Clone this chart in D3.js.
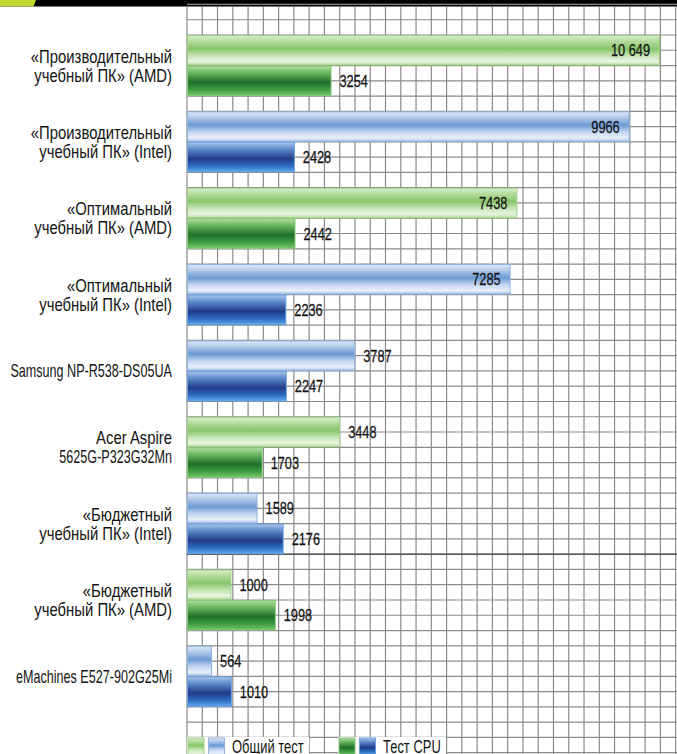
<!DOCTYPE html>
<html><head><meta charset="utf-8">
<script src="https://cdn.jsdelivr.net/npm/d3@7"></script>
<style>
html,body{margin:0;padding:0;background:#fff;}
svg{display:block;}
text{font-family:"Liberation Sans","Arial",sans-serif;fill:#141414;}
</style></head>
<body>
<script>
// ---- data ----
const categories = [
  ["«Производительный", "учебный ПК» (AMD)"],
  ["«Производительный", "учебный ПК» (Intel)"],
  ["«Оптимальный", "учебный ПК» (AMD)"],
  ["«Оптимальный", "учебный ПК» (Intel)"],
  ["Samsung NP-R538-DS05UA"],
  ["Acer Aspire", "5625G-P323G32Mn"],
  ["«Бюджетный", "учебный ПК» (Intel)"],
  ["«Бюджетный", "учебный ПК» (AMD)"],
  ["eMachines E527-902G25Mi"]
];
const platform = ["amd", "intel", "amd", "intel", "intel", "amd", "intel", "amd", "intel"];
const overallValues = [10649, 9966, 7438, 7285, 3787, 3448, 1589, 1000, 564];
const cpuValues = [3254, 2428, 2442, 2236, 2247, 1703, 2176, 1998, 1010];
const seriesNames = ["Общий тест", "Тест CPU"];

// ---- layout ----
const W = 677, H = 754;
const cell = 15.27;
const plotLeft = 187, plotTop = 35;
const svg = d3.select("body").append("svg").attr("width", W).attr("height", H);

const x = d3.scaleLinear().domain([0, 11000]).range([plotLeft, plotLeft + 11000 * 473 / 10649]);
const idx = d3.range(categories.length);
const y = d3.scaleBand().domain(idx)
  .range([plotTop, plotTop + 5 * cell * (categories.length - 0.2)])
  .paddingInner(0.2).paddingOuter(0);
const ySub = d3.scaleBand().domain(["overall", "cpu"]).range([0, y.bandwidth()]);

// ---- gradients ----
const defs = svg.append("defs");
const grads = {
  "amd-overall": [[0,"#d9eecb"],[0.18,"#b7dd9f"],[0.45,"#88c56c"],[0.68,"#c6e4b3"],[0.88,"#eaf5e2"],[1,"#b4da9a"]],
  "amd-cpu": [[0,"#b3dda2"],[0.22,"#6bb760"],[0.55,"#1f6f2b"],[0.8,"#3e9e42"],[1,"#78c66a"]],
  "intel-overall": [[0,"#dde8f7"],[0.18,"#b5cbeb"],[0.45,"#6b9ad3"],[0.68,"#c3d5f0"],[0.88,"#e8eff9"],[1,"#a9c3e8"]],
  "intel-cpu": [[0,"#acc6ea"],[0.22,"#5f8ccb"],[0.55,"#213c88"],[0.8,"#2e6bc0"],[1,"#5eaaee"]]
};
const strokes = {"amd-overall":"#9fcf85","amd-cpu":"#86c878","intel-overall":"#8fb3e2","intel-cpu":"#6a9edf"};
Object.entries(grads).forEach(([id, stops]) => {
  const g = defs.append("linearGradient").attr("id", id).attr("x1",0).attr("y1",0).attr("x2",0).attr("y2",1);
  stops.forEach(([o,c]) => g.append("stop").attr("offset", o).attr("stop-color", c));
});

// ---- top band ----
svg.append("rect").attr("x",0).attr("y",0).attr("width",W).attr("height",6.5).attr("fill","#000");
svg.append("path").attr("d","M0,0 L36,0 L33.5,6.5 L0,6.5 Z").attr("fill","#c3d62e");

// ---- grid ----
const grid = svg.append("g").attr("stroke","#8a8a8a").attr("stroke-width",1.2);
const vx = d3.range(plotLeft, W + 1, cell);
grid.selectAll("line.v").data(vx).join("line")
  .attr("x1", d => d).attr("x2", d => d).attr("y1", 6.5).attr("y2", H);
const hy = d3.range(plotTop - 2 * cell, H + 1, cell);
grid.selectAll("line.h").data(hy).join("line")
  .attr("x1", plotLeft).attr("x2", W).attr("y1", d => d).attr("y2", d => d);
svg.append("line").attr("x1", plotLeft).attr("x2", W)
  .attr("y1", plotTop + 34 * cell).attr("y2", plotTop + 34 * cell)
  .attr("stroke", "#5a5a5a").attr("stroke-width", 1.6);

// ---- bars ----
const fmt = v => v >= 10000 ? d3.format(",")(v).replace(",", " ") : String(v);
const rows = [];
idx.forEach(i => {
  rows.push({i, key: "overall", v: overallValues[i], g: platform[i] + "-overall"});
  rows.push({i, key: "cpu", v: cpuValues[i], g: platform[i] + "-cpu"});
});
svg.append("g").selectAll("rect").data(rows).join("rect")
  .attr("x", x(0) + 0.5)
  .attr("y", d => y(d.i) + ySub(d.key) + 0.5)
  .attr("width", d => x(d.v) - x(0) - 1)
  .attr("height", ySub.bandwidth() - 1)
  .attr("fill", d => `url(#${d.g})`)
  .attr("stroke", d => strokes[d.g]).attr("stroke-width", 1);

svg.append("g").selectAll("text").data(rows).join("text")
  .attr("transform", d => {
    const tx = d.v > 5000 ? x(d.v) - 10 : x(d.v) + 8;
    const ty = y(d.i) + ySub(d.key) + ySub.bandwidth() / 2 + 6;
    return `translate(${tx},${ty}) scale(0.75,1)`;
  })
  .attr("text-anchor", d => d.v > 5000 ? "end" : "start")
  .attr("font-size", 17)
  .attr("stroke", "#141414").attr("stroke-width", 0.25)
  .text(d => fmt(d.v));

// ---- category labels (one text per line; digit-heavy lines are narrower) ----
const lineRows = [];
idx.forEach(i => categories[i].forEach((t, k) => lineRows.push({i, k, n: categories[i].length, t})));
svg.append("g").selectAll("text").data(lineRows).join("text")
  .attr("text-anchor", "end").attr("font-size", 18)
  .attr("transform", d => {
    const cy = y(d.i) + y.bandwidth() / 2 + 6.5 + (d.k - (d.n - 1) / 2) * 19;
    const s = /\d{3}/.test(d.t) ? 0.7 : 0.825;
    return `translate(172,${cy}) scale(${s},1)`;
  })
  .text(d => d.t);

// ---- legend ----
const leg = [
  {x: 188, cols: ["amd-overall", "intel-overall"], label: seriesNames[0], bgW: 122},
  {x: 339, cols: ["amd-cpu", "intel-cpu"], label: seriesNames[1], bgW: 108}
];
const lg = svg.append("g").selectAll("g").data(leg).join("g");
lg.append("rect").attr("x", d => d.x - 1).attr("y", 737).attr("width", d => d.bgW).attr("height", 18).attr("fill", "#fff");
lg.each(function(d) {
  const g = d3.select(this);
  d.cols.forEach((c, k) => {
    g.append("rect").attr("x", d.x + k * 20.5).attr("y", 738).attr("width", 16).attr("height", 17)
      .attr("fill", `url(#${c})`).attr("stroke", strokes[c]).attr("stroke-width", 1);
  });
  g.append("text").attr("transform", `translate(${d.x + 44},752.5) scale(0.72,1)`)
    .attr("font-size", 18).text(d.label);
});
</script>
</body></html>
